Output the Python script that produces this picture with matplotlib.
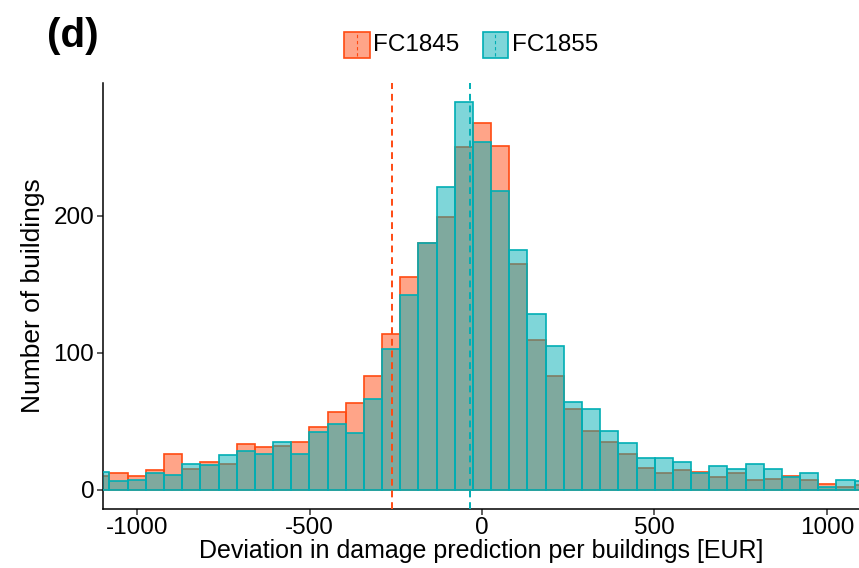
import numpy as np
import matplotlib
matplotlib.use("Agg")
import matplotlib.pyplot as plt
from matplotlib.patches import Rectangle
from matplotlib.lines import Line2D

plt.rcParams['font.family'] = ['Liberation Sans', 'DejaVu Sans']
plt.rcParams['axes.unicode_minus'] = False

# Histogram bin centres (bin width ~52.7 EUR, centred on 0)
bin_width = 52.7
bin_index = list(range(-21, 22))

# Building counts per bin
fc1845 = [10, 12, 10, 14, 26, 15, 20, 19, 33, 31, 32, 35, 46, 57, 63,
          83, 114, 155, 180, 199, 250, 268, 251, 165, 109, 83, 59, 43,
          35, 26, 16, 12, 14, 13, 9, 12, 7, 8, 10, 7, 4, 2, 3]
fc1855 = [13, 6, 7, 12, 11, 19, 18, 25, 28, 26, 35, 26, 42, 48, 41,
          66, 103, 142, 180, 221, 283, 254, 218, 175, 128, 105, 64, 59,
          43, 34, 23, 23, 20, 12, 17, 15, 19, 15, 9, 12, 2, 7, 6]

# Mean deviations
mean_1845 = -261
mean_1855 = -36

series_names = ["FC1845", "FC1855"]
col_1845 = "#FF4A12"
col_1855 = "#00AEB4"

centres = np.array(bin_index) * bin_width

fig = plt.figure(figsize=(8.59, 5.68), dpi=100)
W, H = 859, 568
ax = fig.add_axes([102.7 / W, 1 - 509 / H, (859 - 102.7) / W, (509 - 83) / H])

ax.bar(centres, fc1845, width=bin_width, color=matplotlib.colors.to_rgba(col_1845, 0.5),
       edgecolor=col_1845, linewidth=1.2, zorder=2)
ax.bar(centres, fc1855, width=bin_width, color=matplotlib.colors.to_rgba(col_1855, 0.5),
       edgecolor=col_1855, linewidth=1.2, zorder=3)

ax.axvline(mean_1845, color=col_1845, linestyle=(0, (3.5, 2.5)), linewidth=1.4, zorder=4)
ax.axvline(mean_1855, color=col_1855, linestyle=(0, (3.5, 2.5)), linewidth=1.4, zorder=4)

ax.set_xlim(-1100, 1093)
ax.set_ylim(-14.2, 297)
ax.set_xticks([-1000, -500, 0, 500, 1000])
ax.set_yticks([0, 100, 200])
for s in ("top", "right"):
    ax.spines[s].set_visible(False)
for s in ("left", "bottom"):
    ax.spines[s].set_linewidth(1.1)
    ax.spines[s].set_color("black")
ax.tick_params(axis="both", labelsize=17.5, length=4, width=1.1, color="#333333",
               labelcolor="black", pad=2)
ax.set_xlabel("Deviation in damage prediction per buildings [EUR]", fontsize=18, labelpad=0)
ax.set_ylabel("Number of buildings", fontsize=19, labelpad=6)

# Panel tag
fig.text(47 / W, 1 - 36 / H, "(d)", fontsize=29, fontweight="bold", va="center", ha="left")

# Legend keys with the mean-line marker
keys = [(344, col_1845, series_names[0]), (482.5, col_1855, series_names[1])]
for x0, col, name in keys:
    fig.add_artist(Rectangle((x0 / W, 1 - 57.7 / H), 25.5 / W, 25.5 / H,
                             transform=fig.transFigure,
                             facecolor=matplotlib.colors.to_rgba(col, 0.5),
                             edgecolor=col, linewidth=1.2))
    xm = (x0 + 12.75) / W
    fig.add_artist(Line2D([xm, xm], [1 - 56 / H, 1 - 34 / H], transform=fig.transFigure,
                          color=col, linewidth=0.8, linestyle=(0, (3, 2.5))))
    fig.text((x0 + 29) / W, 1 - 45 / H, name, fontsize=17.5, va="center", ha="left")

fig.savefig("out.png", dpi=100)
